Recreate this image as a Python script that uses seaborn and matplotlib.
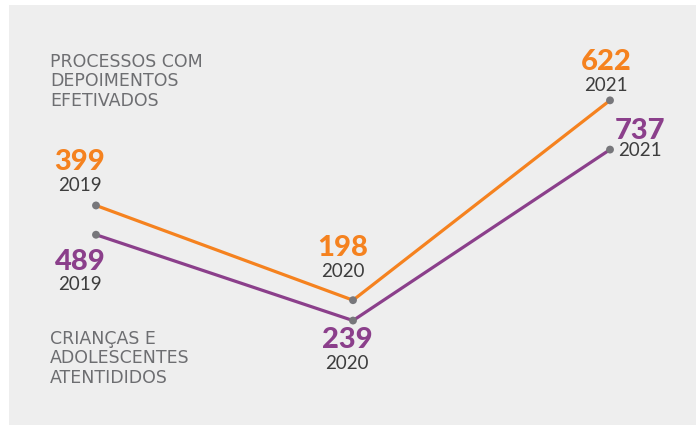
import matplotlib
matplotlib.use('Agg')
import matplotlib.pyplot as plt
import seaborn as sns
import pandas as pd
from matplotlib.patches import Rectangle

# dados
anos = [2019, 2020, 2021]
processos = [399, 198, 622]
criancas = [489, 239, 737]

cor_laranja = '#f5821f'
cor_roxo = '#8b3f8b'
cor_ponto = '#77777b'
cor_titulo = '#6d6e71'
cor_ano = '#3d3d3d'

sns.set_theme(style='white')
plt.rcParams['font.family'] = ['Lato', 'DejaVu Sans']

fig = plt.figure(figsize=(6.96, 4.25), dpi=100)
fig.patch.set_facecolor('white')
fig.patches.append(Rectangle((9 / 696, 0), 1, 420 / 425, transform=fig.transFigure,
                             facecolor='#eeeeee', edgecolor='none', zorder=-10))

ax = fig.add_axes([0, 0, 1, 1])
ax2 = ax.twinx()
for a in (ax, ax2):
    a.set_facecolor('none')
    a.set_axis_off()

df = pd.DataFrame({'ano': anos, 'processos': processos, 'criancas': criancas})

sns.lineplot(data=df, x='ano', y='processos', ax=ax, color=cor_laranja, linewidth=2.3)
sns.scatterplot(data=df, x='ano', y='processos', ax=ax, color=cor_ponto, s=32,
                edgecolor='none', zorder=5)
sns.lineplot(data=df, x='ano', y='criancas', ax=ax2, color=cor_roxo, linewidth=2.3)
sns.scatterplot(data=df, x='ano', y='criancas', ax=ax2, color=cor_ponto, s=32,
                edgecolor='none', zorder=5)

# escalas separadas para cada serie
ax.set_xlim(2018.6265, 2021.3346)
ax2.set_xlim(2018.6265, 2021.3346)
ax.set_ylim(-66.8, 834.9)
ax2.set_ylim(-65.2, 1172.7)

# rotulos laranja (acima dos pontos)
desloc_laranja = [(-16, 43), (-10, 52), (-4, 38)]
for ano, v, (dx, dy) in zip(anos, processos, desloc_laranja):
    ax.annotate(str(v), (ano, v), xytext=(dx, dy), textcoords='offset pixels',
                ha='center', va='center', fontsize=21, fontweight='black', color=cor_laranja)
    ax.annotate(str(ano), (ano, v), xytext=(dx, dy - 23), textcoords='offset pixels',
                ha='center', va='center', fontsize=13.5, color=cor_ano)

# rotulos roxos
desloc_roxo = [(-16, -27, -50), (-6, -19, -43), (30, 19, -1)]
for ano, v, (dx, dy_v, dy_a) in zip(anos, criancas, desloc_roxo):
    ax2.annotate(str(v), (ano, v), xytext=(dx, dy_v), textcoords='offset pixels',
                 ha='center', va='center', fontsize=21, fontweight='black', color=cor_roxo)
    ax2.annotate(str(ano), (ano, v), xytext=(dx, dy_a), textcoords='offset pixels',
                 ha='center', va='center', fontsize=13.5, color=cor_ano)

# titulos das series
fig.text(50 / 696, 1 - 53 / 425, 'PROCESSOS COM\nDEPOIMENTOS\nEFETIVADOS',
         ha='left', va='top', fontsize=12.5, color=cor_titulo, family='DejaVu Sans',
         linespacing=1.1)
fig.text(50 / 696, 1 - 330 / 425, 'CRIANÇAS E\nADOLESCENTES\nATENTIDIDOS',
         ha='left', va='top', fontsize=12.5, color=cor_titulo, family='DejaVu Sans',
         linespacing=1.1)

fig.savefig('out.png', dpi=100)
